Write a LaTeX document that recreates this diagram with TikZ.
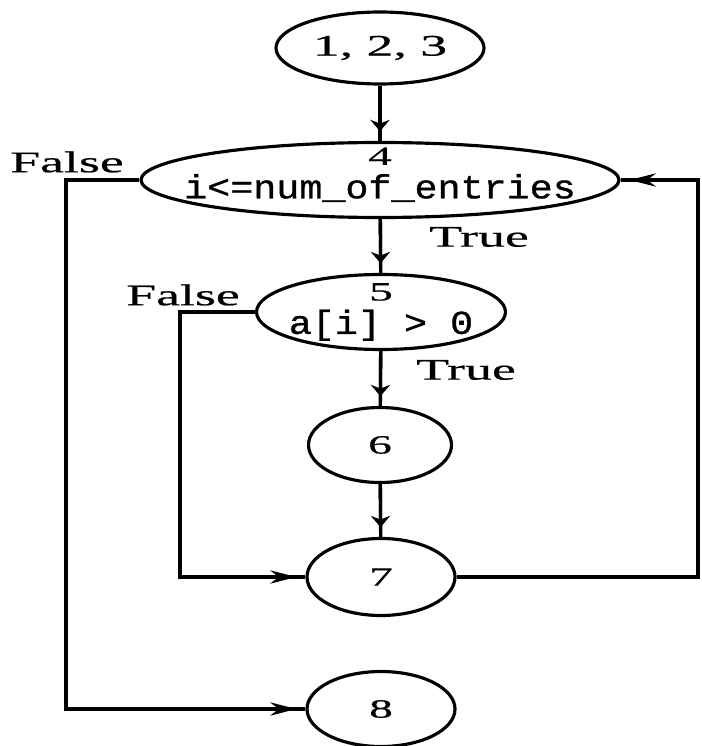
\documentclass[tikz,border=0pt]{standalone}
\usepackage{fontspec}
\usepackage{tikz}
\usetikzlibrary{shapes.geometric,arrows.meta}
\newfontfamily\numfont[FakeStretch=1.8,FakeBold=0.6]{Liberation Serif}
\newfontfamily\codefont[FakeStretch=1.15,FakeBold=1]{Liberation Mono}
\newcommand{\code}[1]{{\codefont\fontsize{19}{17}\selectfont #1}}
\tikzset{
  state/.style={draw=black, ellipse, line width=1.8pt, inner sep=0pt},
  num/.style={font=\numfont\fontsize{15}{17}\selectfont, align=center},
  lab/.style={font=\numfont\fontsize{17}{20}\selectfont},
  line/.style={draw=black, line width=1.9pt},
  vflow/.style={line, postaction={draw, -{Stealth[length=6.5pt,width=11pt]}, shorten >=5.5pt}},
  hflow/.style={line, postaction={draw, -{Stealth[length=15pt,width=7.5pt]}, shorten >=5pt}},
}
\begin{document}
\begin{tikzpicture}[x=0.02cm, y=-0.02cm]
  \useasboundingbox (0,0) rectangle (701,746);
  % blocks
  \node[state, num, minimum width=208*0.02cm, minimum height=72*0.02cm, font=\numfont\fontsize{17}{20}\selectfont] (n123) at (380,48) {1, 2, 3};
  \node[state, minimum width=478*0.02cm, minimum height=75*0.02cm,
        label={[num, yshift=3pt]center:{4\\[2pt]\code{i<=num\_of\_entries}}}] (n4) at (380,180) {};
  \node[state, minimum width=249*0.02cm, minimum height=75*0.02cm,
        label={[num]center:{5\\[2pt]\code{a[i] > 0}}}] (n5) at (381,312) {};
  \node[state, num, minimum width=143*0.02cm, minimum height=75*0.02cm] (n6) at (380,445) {6};
  \node[state, num, minimum width=148*0.02cm, minimum height=77*0.02cm] (n7) at (381,577) {7};
  \node[state, num, minimum width=148*0.02cm, minimum height=75*0.02cm] (n8) at (381,709) {8};
  % branch labels
  \node[lab] (lf4) at (67,162) {False};
  \node[lab] (lt4) at (479,237) {True};
  \node[lab] (lf5) at (183,295) {False};
  \node[lab] (lt5) at (466,370) {True};
  % corners
  \coordinate (lfo) at (66,180);
  \coordinate (lfi) at (180,312);
  \coordinate (rto) at (698,577);
  % flow
  \draw[vflow] (n123) -- (n4);
  \draw[vflow] (n4) -- (n5);
  \draw[vflow] (n5) -- (n6);
  \draw[vflow] (n6) -- (n7);
  \draw[hflow] (n4.west) -- (lfo) |- (n8.west);
  \draw[hflow] (n5.west) -- (lfi) |- (n7.west);
  \draw[hflow] (n7.east) -- (rto) |- (n4.east);
\end{tikzpicture}
\end{document}
